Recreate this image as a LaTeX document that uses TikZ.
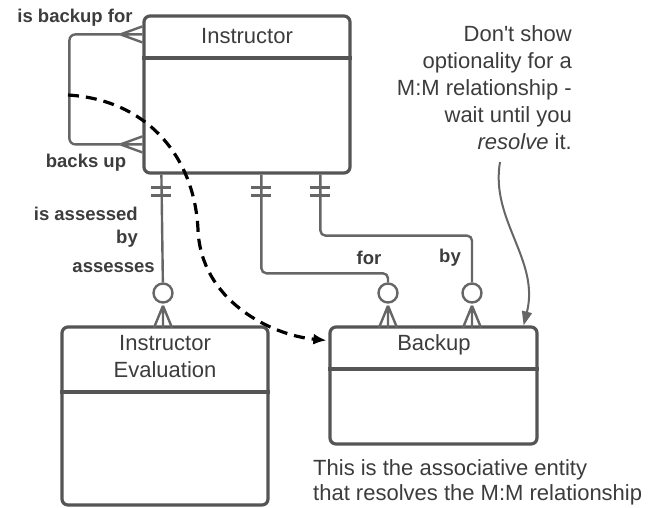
\documentclass[tikz,border=0pt]{standalone}
\usepackage{fontspec}
\setmainfont{Liberation Sans}
\usepackage{tikz}
\usetikzlibrary{arrows.meta,positioning,calc}
\definecolor{boxgray}{HTML}{555555}
\definecolor{linegray}{HTML}{666666}
\definecolor{txtgray}{HTML}{3C3C3C}

\begin{document}
\begin{tikzpicture}[
x=1pt, y=-1pt,
entity/.style={draw=boxgray, line width=3.2pt, rounded corners=6pt, inner sep=0pt},
title/.style={text=txtgray, font=\fontsize{22}{27}\selectfont, align=center, inner sep=0pt},
rel/.style={draw=linegray, line width=2.4pt},
ocirc/.style={circle, draw=linegray, line width=2.4pt, fill=white, minimum size=19pt, inner sep=0pt},
role/.style={text=txtgray, font=\bfseries\fontsize{18.5}{23}\selectfont, inner sep=0pt},
note/.style={text=txtgray, font=\fontsize{22}{27}\selectfont, inner sep=0pt},
hint/.style={-{Latex[length=13pt,width=11pt]}, black, line width=3.2pt, dash pattern=on 11pt off 7pt},
pointer/.style={-{Triangle[length=14pt,width=10pt]}, draw=linegray, line width=2pt}
]
\useasboundingbox (0,0) rectangle (660,507);

% entities
\node[entity, minimum width=206pt, minimum height=157pt] (instr) at (247,94.5) {};
\node[entity, minimum width=206pt, minimum height=178pt] (eval) at (165,416) {};
\node[entity, minimum width=207pt, minimum height=117pt] (backup) at (433.5,385.5) {};
\draw[boxgray, line width=3.2pt] (instr.west |- 0,58) -- (instr.east |- 0,58);
\draw[boxgray, line width=3.2pt] (eval.west |- 0,392) -- (eval.east |- 0,392);
\draw[boxgray, line width=3.2pt] (backup.west |- 0,369) -- (backup.east |- 0,369);
\node[title] (instrName) at (247,36) {Instructor};
\node[title] (evalName) at (165,356.5) {Instructor\\Evaluation};
\node[title] (backupName) at (434,345) {Backup};

% recursive relationship
\coordinate (upFoot) at ($(instr.north west)+(-22,20)$);
\coordinate (downFoot) at ($(instr.north west)+(-22,130)$);
\draw[rel, rounded corners=6pt] (upFoot) -- ++(-51,0) |- (downFoot);
\draw[rel] (upFoot) -- ($(instr.north west)+(0,12)$) (upFoot) -- ($(instr.north west)+(0,20)$) (upFoot) -- ($(instr.north west)+(0,28)$);
\draw[rel] (downFoot) -- ($(instr.north west)+(0,122)$) (downFoot) -- ($(instr.north west)+(0,130)$) (downFoot) -- ($(instr.north west)+(0,138)$);
\node[role] (backupFor) at (75,18) {is backup for};
\node[role] (backsUp) at (86,163) {backs up};

% one-to-many relationships
\coordinate (aTop) at ($(instr.south west)+(19,0)$);
\coordinate (fTop) at ($(instr.south west)+(119,0)$);
\coordinate (bTop) at ($(instr.south west)+(178,0)$);
\node[ocirc] (aCirc) at (163,293) {};
\node[ocirc] (fCirc) at (388,293) {};
\node[ocirc] (bCirc) at (472,293) {};
\draw[rel] (aTop) -- (aCirc);
\draw[rel, rounded corners=5pt] (fTop) |- ($(fCirc.north)+(0,-9)$) -- (fCirc.north);
\draw[rel, rounded corners=5pt] (bTop) -- ++(0,61) -| (bCirc.north);
\foreach \p in {aTop,fTop,bTop}
  \draw[rel] ($(\p)+(-10,13)$) -- ++(20,0) ($(\p)+(-10,21)$) -- ++(20,0);
\foreach \c in {aCirc,fCirc,bCirc}
  \draw[rel] ($(\c.south)+(0,2)$) -- ++(-9,22) ($(\c.south)+(0,2)$) -- ++(0,22) ($(\c.south)+(0,2)$) -- ++(9,22);
\node[role, anchor=east, align=right] (assessedBy) at (138,227.5) {is assessed\\by};
\node[role, anchor=east] (assesses) at (155,268) {assesses};
\node[role] (forLbl) at (369,258) {for};
\node[role] (byLbl) at (450,258) {by};

% notes
\node[note, anchor=north east, align=right] (mmNote) at (572,25) {Don\textquotesingle t show\\optionality for a\\M:M relationship -\\wait until you\\\textit{resolve} it.};
\node[note, font=\fontsize{22}{25}\selectfont, anchor=north west, align=left] (assocNote) at (313,459) {This is the associative entity\\that resolves the M:M relationship};
\coordinate (noteTail) at (500,162);
\coordinate (noteHead) at ($(backup.north east)+(-15,0)$);
\draw[pointer] (noteTail) .. controls (490,220) and (540,260) .. (noteHead);

% resolution hint
\coordinate (loopMark) at (68,95);
\coordinate (backupEntry) at ($(backup.north west)+(-2,15)$);
\draw[hint] (loopMark) .. controls (150,100) and (195,160) .. (198,230) .. controls (201,300) and (270,335) .. (backupEntry);
\end{tikzpicture}
\end{document}
